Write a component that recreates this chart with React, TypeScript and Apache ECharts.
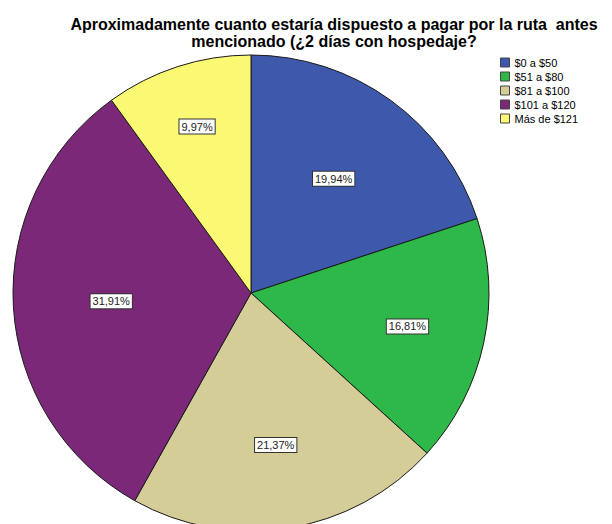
import React, { useEffect, useRef } from "react";
import * as echarts from "echarts";

const titleLines = [
  "Aproximadamente cuanto estaría dispuesto a pagar por la ruta  antes",
  "mencionado (¿2 días con hospedaje?",
];
const categories = ["$0 a $50", "$51 a $80", "$81 a $100", "$101 a $120", "Más de $121"];
const percents = [19.94, 16.81, 21.37, 31.91, 9.97];
const colors = ["#3E58AC", "#2EB84A", "#D4CD98", "#7B2879", "#FBF873"];
// label distance from centre (layout, px)
const labelRadii = [138, 157, 151, 137, 172];

const R = 238;

export default function App() {
  const ref = useRef<HTMLDivElement>(null);
  useEffect(() => {
    if (!ref.current) return;
    const chart = echarts.init(ref.current, undefined, { renderer: "svg" });
    const total = percents.reduce((a, b) => a + b, 0);
    const midAngles: number[] = [];
    let acc = 0;
    percents.forEach((v) => {
      midAngles.push(((acc + v / 2) / total) * 2 * Math.PI);
      acc += v;
    });
    chart.setOption({
      animation: false,
      backgroundColor: "#fff",
      title: {
        text: titleLines.join("\n"),
        left: 329,
        top: 11,
        textAlign: "center",
        textStyle: {
          fontFamily: "Liberation Sans",
          fontSize: 16,
          fontWeight: "bold",
          lineHeight: 17,
          color: "#000",
        },
      },
      legend: {
        orient: "vertical",
        left: 495,
        top: 52,
        itemWidth: 9,
        itemHeight: 9,
        itemGap: 3,
        icon: "rect",
        selectedMode: false,
        itemStyle: { borderColor: "#444", borderWidth: 1 },
        textStyle: { fontFamily: "Liberation Sans", fontSize: 11, lineHeight: 11, color: "#000" },
        data: categories,
      },
      series: [
        {
          type: "pie",
          center: [251, 293],
          radius: [0, R],
          startAngle: 90,
          clockwise: true,
          silent: true,
          avoidLabelOverlap: false,
          itemStyle: { borderColor: "#1a1a1a", borderWidth: 1 },
          emphasis: { disabled: true },
          label: {
            show: true,
            position: "inside",
            formatter: (p: any) => p.value.toFixed(2).replace(".", ",") + "%",
            fontFamily: "Liberation Sans",
            fontSize: 11,
            color: "#222",
            backgroundColor: "#fff",
            borderColor: "#333",
            borderWidth: 1,
            padding: [2, 2, 1, 2],
          },
          labelLayout: (params: any) => {
            const i = params.dataIndex;
            const extra = labelRadii[i] - R / 2;
            return {
              dx: extra * Math.sin(midAngles[i]),
              dy: -extra * Math.cos(midAngles[i]),
            };
          },
          data: categories.map((name, i) => ({
            name,
            value: percents[i],
            itemStyle: { color: colors[i] },
          })),
        },
      ],
    });
    return () => chart.dispose();
  }, []);
  return (
    <div
      ref={ref}
      style={{ position: "fixed", left: 0, top: 0, width: 612, height: 524 }}
    />
  );
}
